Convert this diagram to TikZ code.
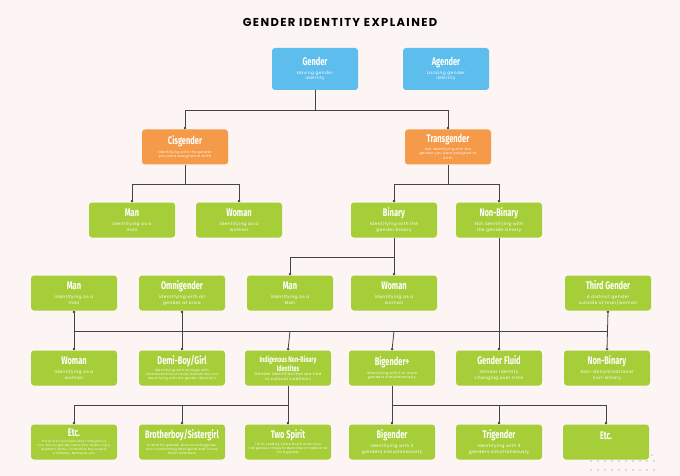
\documentclass[tikz,border=0pt]{standalone}
\usepackage{fontspec}
\setmainfont{Poppins}
\newfontfamily\condf[FakeStretch=0.68]{Fira Sans}
\newfontfamily\subf[LetterSpace=10]{Poppins}
\usetikzlibrary{arrows.meta}
\definecolor{bg}{HTML}{FDF5F3}
\definecolor{gb}{HTML}{A6CE39}
\definecolor{bl}{HTML}{5DBDEC}
\definecolor{orn}{HTML}{F49A48}
\definecolor{ln}{HTML}{444444}
\tikzset{
  box/.style={fill=#1, rounded corners=3pt, minimum width=86pt, minimum height=35pt, inner sep=1pt, text=white, align=center},
  conn/.style={draw=ln, line width=0.8pt, -{Circle[length=2.4pt]}},
  conn2/.style={draw=ln, line width=0.8pt, {Circle[length=2.4pt]}-{Circle[length=2.4pt]}},
  bus/.style={draw=ln, line width=0.8pt}
}
\newcommand{\bxx}[6]{\node[box=#4] (#1) at (#2,#3) {{\condf\bfseries\fontsize{11}{11}\selectfont #5}\\[1pt]\parbox{80pt}{\centering\subf\fontsize{4.3}{5.6}\selectfont #6}};}
\begin{document}
\begin{tikzpicture}[x=1pt,y=-1pt]
\fill[bg] (0,0) rectangle (680,476);
\useasboundingbox (0,0) rectangle (680,476);
\node (title) at (340,22) {\addfontfeatures{LetterSpace=12}\bfseries\fontsize{11.5}{12}\selectfont GENDER IDENTITY EXPLAINED};
% row 0
\node[box=bl, minimum height=42pt] (gender) at (315,69) {{\condf\bfseries\fontsize{11}{11}\selectfont Gender}\\[1pt]\parbox{80pt}{\centering\subf\fontsize{4.3}{5.6}\selectfont Having gender\\identity}};
\node[box=bl, minimum height=42pt] (agender) at (446,69) {{\condf\bfseries\fontsize{11}{11}\selectfont Agender}\\[1pt]\parbox{80pt}{\centering\subf\fontsize{4.3}{5.6}\selectfont Lacking gender\\identity}};
% row 1
\bxx{cis}{185}{147}{orn}{Cisgender}{\fontsize{3.4}{4.6}\selectfont Identifying with the gender\\you were assigned at birth}
\bxx{trans}{448}{147}{orn}{Transgender}{\fontsize{3.4}{4.6}\selectfont Not Identifying with the\\gender you were assigned at\\birth}
% row 2
\bxx{man2}{132}{220}{gb}{Man}{Identifying as a\\man}
\bxx{woman2}{239}{220}{gb}{Woman}{Identifying as a\\woman}
\bxx{binary}{394}{220}{gb}{Binary}{Identifying with the\\gender binary}
\bxx{nonbin2}{499}{220}{gb}{Non-Binary}{Not identifying with\\the gender binary}
% row 3
\bxx{man3}{74}{293}{gb}{Man}{Identifying as a\\man}
\bxx{omni}{182}{293}{gb}{Omnigender}{Identifying with all\\gender at once}
\bxx{man3b}{290}{293}{gb}{Man}{Identifying as a\\Man}
\bxx{woman3}{394}{293}{gb}{Woman}{Identifying as a\\woman}
\bxx{third}{608}{293}{gb}{Third Gender}{A distinct gender\\outside of man/woman}
% row 4
\bxx{woman4}{74}{368}{gb}{Woman}{Identifying as a\\woman}
\bxx{demi}{182}{368}{gb}{Demi-Boy/Girl}{\fontsize{3.2}{4.2}\selectfont Identifying with strongly with characteristics of man/woman but not identifying with the gender identity's}
\node[box=gb] (indig) at (288,368) {\parbox{84pt}{\centering\condf\bfseries\fontsize{8}{9}\selectfont Indigenous Non-Binary\\Identites}\\[1pt]\parbox{82pt}{\centering\subf\fontsize{3.8}{5}\selectfont Gender identities that are tied\\to cultural traditions}};
\bxx{bigp}{392}{368}{gb}{Bigender+}{\fontsize{3.4}{4.6}\selectfont Identifying with 2 or more\\genders simultaneously}
\bxx{fluid}{499}{368}{gb}{Gender Fluid}{Gender identity\\changing over time}
\bxx{nonbin4}{607}{368}{gb}{Non-Binary}{Non-denominational\\non-binary}
% row 5
\bxx{etc1}{74}{442}{gb}{Etc.}{\fontsize{3}{4}\selectfont There are countless other Indigenous non-binary gender identities: Bakla, Hijra, Ipadlam, Mahu, Fa'afafine, Burrnesha, Chibados, Mahupaz, etc}
\bxx{brother}{182}{442}{gb}{Brotherboy/Sistergirl}{\fontsize{3.2}{4.2}\selectfont A term for gender diverse and gender non-conforming Aboriginal and Torres Strait Islanders}
\bxx{two}{288}{442}{gb}{Two Spirit}{\fontsize{3.2}{4.2}\selectfont Term used by some North American Indigenous tribes to describe a traditional third gender}
\bxx{big}{392}{442}{gb}{Bigender}{Identifying with 2\\genders simultaneously}
\bxx{tri}{499}{442}{gb}{Trigender}{Identifying with 3\\genders simultaneously}
\bxx{etc2}{606}{442}{gb}{Etc.}{}
% connectors
\draw[bus] (gender.south) -- (gender.south|-0,110);
\draw[conn] (gender.south|-0,110) -| (cis.north);
\draw[conn] (gender.south|-0,110) -| (trans.north);
\draw[bus] (cis.south) -- (cis.south|-0,184);
\draw[conn] (cis.south|-0,184) -| (man2.north);
\draw[conn] (cis.south|-0,184) -| (woman2.north);
\draw[bus] (trans.south) -- (trans.south|-0,184);
\draw[conn] (trans.south|-0,184) -| (binary.north);
\draw[conn] (trans.south|-0,184) -| (nonbin2.north);
\draw[bus] (binary.south) -- (binary.south|-0,257);
\draw[conn] (binary.south|-0,257) -| (man3b.north);
\draw[conn] (binary.south|-0,257) -- (woman3.north);
\draw[conn] (nonbin2.south) -- (fluid.north);
% big bus
\draw[bus] (man3.south|-0,331) -- (third.south|-0,331);
\draw[conn2] (man3.south) -- (woman4.north);
\draw[conn2] (omni.south) -- (demi.north);
\draw[conn2] (third.south) -- (nonbin4.north);
\draw[conn] (man3b.south|-0,331) -- (indig.north);
\draw[conn] (woman3.south|-0,331) -- (bigp.north);
% lower buses
\draw[bus] (indig.south) -- (indig.south|-0,405);
\draw[conn] (indig.south|-0,405) -| (etc1.north);
\draw[conn] (indig.south|-0,405) -| (brother.north);
\draw[conn] (indig.south|-0,405) -- (two.north);
\draw[bus] (bigp.south) -- (bigp.south|-0,405);
\draw[conn] (bigp.south|-0,405) -- (big.north);
\draw[conn] (bigp.south|-0,405) -| (tri.north);
\draw[conn] (bigp.south|-0,405) -| (etc2.north);
% dots decoration
\foreach \i in {0,...,9} {
  \fill[gray!50] (591+\i*7,470) circle (0.9);
  \fill[gray!50] (591+\i*7,461) circle (0.9);
}
\fill[gray!50] (652,455) circle (0.9);
\end{tikzpicture}
\end{document}
